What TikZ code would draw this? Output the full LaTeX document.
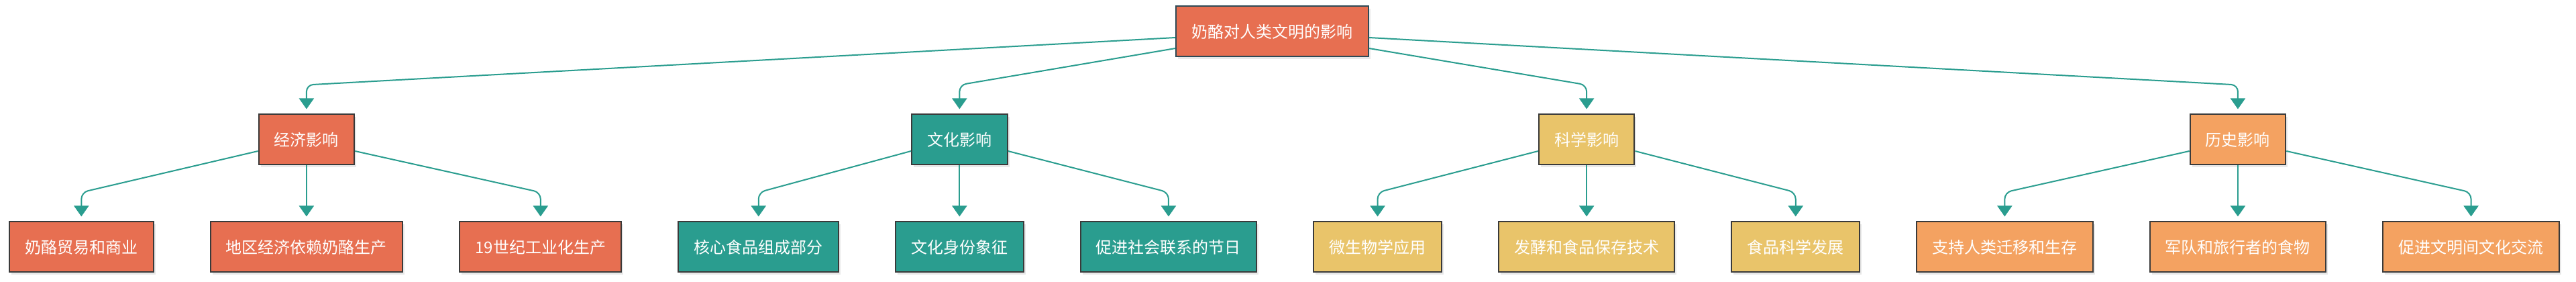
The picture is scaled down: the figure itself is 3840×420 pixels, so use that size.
\documentclass[tikz,border=0pt]{standalone}
\usepackage{fontspec}
\newfontfamily\cjkfont{Noto Sans CJK SC}
\usepackage{xcolor}
\usetikzlibrary{arrows.meta, positioning, calc, shadows}
\definecolor{cheesered}{HTML}{E76F51}
\definecolor{cheeseteal}{HTML}{2A9D8F}
\definecolor{cheeseyellow}{HTML}{E9C46A}
\definecolor{cheeseorange}{HTML}{F4A261}
\definecolor{boxline}{HTML}{3A3A3A}
\definecolor{rootline}{HTML}{2E4A56}
\tikzset{
    box/.style={rectangle, draw=boxline, line width=2pt, text=white, minimum height=75pt, inner xsep=23.3pt, font=\cjkfont\fontsize{24}{28}\selectfont, drop shadow={shadow xshift=3pt, shadow yshift=-4pt, opacity=0.18}},
    rootbox/.style={box, fill=cheesered, draw=rootline},
    econ/.style={box, fill=cheesered},
    culture/.style={box, fill=cheeseteal},
    science/.style={box, fill=cheeseyellow},
    history/.style={box, fill=cheeseorange},
    arrow/.style={-{Triangle[width=22pt, length=16pt]}, line width=2pt, draw=cheeseteal, rounded corners=10pt, shorten >=7pt},
}

\begin{document}
\begin{tikzpicture}
    \useasboundingbox (0pt,0pt) rectangle (3840pt,420pt);

    % bottom row
    \node[econ, anchor=west] (trade) at (13pt,52pt) {奶酪贸易和商业};
    \node[econ, right=83pt of trade] (regional) {地区经济依赖奶酪生产};
    \node[econ, right=83pt of regional] (industry) {19世纪工业化生产};
    \node[culture, right=83pt of industry] (corefood) {核心食品组成部分};
    \node[culture, right=83pt of corefood] (identity) {文化身份象征};
    \node[culture, right=83pt of identity] (festival) {促进社会联系的节日};
    \node[science, right=83pt of festival] (microbio) {微生物学应用};
    \node[science, right=83pt of microbio] (ferment) {发酵和食品保存技术};
    \node[science, right=83pt of ferment] (foodsci) {食品科学发展};
    \node[history, right=83pt of foodsci] (migration) {支持人类迁移和生存};
    \node[history, right=83pt of migration] (rations) {军队和旅行者的食物};
    \node[history, right=83pt of rations] (exchange) {促进文明间文化交流};

    % middle row
    \node[econ, above=83pt of regional] (econ) {经济影响};
    \node[culture, above=83pt of identity] (cult) {文化影响};
    \node[science, above=83pt of ferment] (sci) {科学影响};
    \node[history, above=83pt of rations] (hist) {历史影响};

    % top
    \coordinate (mid) at ($(econ.north)!0.5!(hist.north)$);
    \node[rootbox, above=84pt of mid] (root) {奶酪对人类文明的影响};

    \draw[arrow] ([yshift=-9pt]root.west) -- ([yshift=43pt]econ.north) -- (econ.north);
    \draw[arrow] ([yshift=-25pt]root.west) -- ([yshift=43pt]cult.north) -- (cult.north);
    \draw[arrow] ([yshift=-25pt]root.east) -- ([yshift=43pt]sci.north) -- (sci.north);
    \draw[arrow] ([yshift=-9pt]root.east) -- ([yshift=43pt]hist.north) -- (hist.north);

    \draw[arrow] ([yshift=-17pt]econ.west) -- ([yshift=43pt]trade.north) -- (trade.north);
    \draw[arrow] (econ) -- (regional);
    \draw[arrow] ([yshift=-17pt]econ.east) -- ([yshift=43pt]industry.north) -- (industry.north);

    \draw[arrow] ([yshift=-17pt]cult.west) -- ([yshift=43pt]corefood.north) -- (corefood.north);
    \draw[arrow] (cult) -- (identity);
    \draw[arrow] ([yshift=-17pt]cult.east) -- ([yshift=43pt]festival.north) -- (festival.north);

    \draw[arrow] ([yshift=-17pt]sci.west) -- ([yshift=43pt]microbio.north) -- (microbio.north);
    \draw[arrow] (sci) -- (ferment);
    \draw[arrow] ([yshift=-17pt]sci.east) -- ([yshift=43pt]foodsci.north) -- (foodsci.north);

    \draw[arrow] ([yshift=-17pt]hist.west) -- ([yshift=43pt]migration.north) -- (migration.north);
    \draw[arrow] (hist) -- (rations);
    \draw[arrow] ([yshift=-17pt]hist.east) -- ([yshift=43pt]exchange.north) -- (exchange.north);
\end{tikzpicture}
\end{document}
